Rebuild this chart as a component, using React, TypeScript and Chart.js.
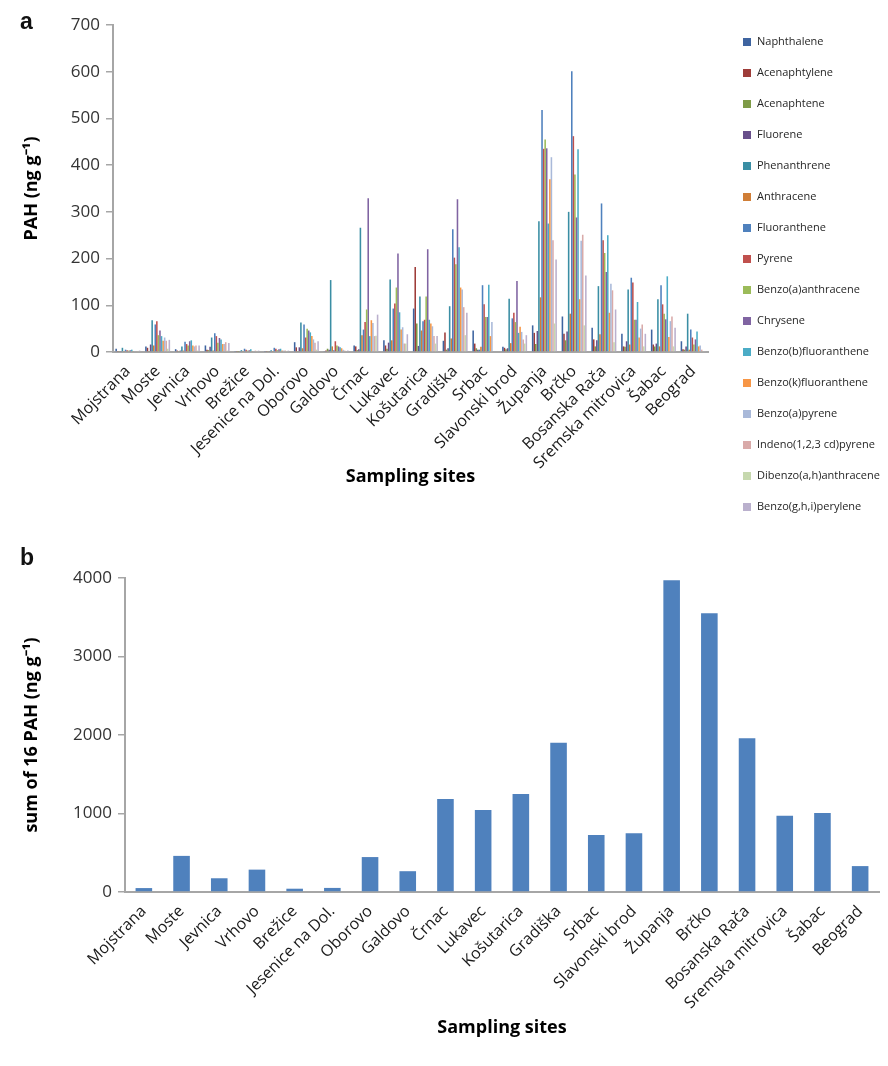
import { useEffect, useRef } from 'react';
import { Chart, registerables } from 'chart.js';

Chart.register(...registerables);

const FONT = '"Open Sans", "Liberation Sans", sans-serif';

const SITES = [
  'Mojstrana', 'Moste', 'Jevnica', 'Vrhovo', 'Brežice', 'Jesenice na Dol.', 'Oborovo', 'Galdovo',
  'Črnac', 'Lukavec', 'Košutarica', 'Gradiška', 'Srbac', 'Slavonski brod', 'Županja', 'Brčko',
  'Bosanska Rača', 'Sremska mitrovica', 'Šabac', 'Beograd',
];

// Individual PAH concentrations per site (ng g-1)
const NAPHTHALENE = [7, 12, 6, 14, 2, 2, 21, 2, 14, 25, 93, 24, 46, 11, 57, 76, 52, 39, 48, 23];
const ACENAPHTYLENE = [1, 9, 3, 5, 1, 1, 10, 3, 12, 14, 182, 42, 18, 9, 41, 39, 27, 12, 16, 6];
const ACENAPHTENE = [1, 2, 2, 4, 0.5, 1, 2, 7, 4, 7, 61, 5, 8, 6, 17, 25, 12, 11, 12, 5];
const FLUORENE = [2, 16, 3, 11, 1, 1, 10, 5, 6, 20, 13, 8, 5, 8, 45, 44, 25, 23, 18, 12];
const PHENANTHRENE = [9, 68, 12, 31, 4, 4, 63, 154, 266, 155, 119, 98, 5, 114, 280, 300, 141, 134, 113, 82];
const ANTHRACENE = [1, 14, 3, 3, 1, 1, 8, 12, 36, 25, 46, 29, 11, 19, 117, 82, 38, 16, 12, 5];
const FLUORANTHENE = [5, 59, 22, 40, 7, 9, 59, 4, 48, 93, 66, 263, 143, 72, 518, 601, 318, 159, 143, 48];
const PYRENE = [4, 66, 17, 34, 5, 7, 31, 23, 64, 104, 69, 202, 102, 84, 435, 462, 239, 149, 102, 31];
const BENZO_A_ANTHRACENE = [3, 36, 14, 20, 3, 4, 50, 14, 91, 138, 119, 188, 75, 64, 455, 380, 212, 69, 82, 16];
const CHRYSENE = [4, 46, 23, 30, 4, 6, 46, 12, 329, 211, 220, 327, 75, 152, 436, 288, 171, 69, 70, 27];
const BENZO_B_FLUORANTHENE = [5, 34, 25, 27, 6, 7, 42, 10, 34, 85, 69, 224, 144, 41, 275, 434, 250, 107, 162, 44];
const BENZO_K_FLUORANTHENE = [2, 24, 14, 17, 2, 3, 34, 8, 68, 48, 61, 138, 34, 54, 370, 113, 84, 31, 32, 12];
const BENZO_A_PYRENE = [2, 31, 12, 17, 2, 3, 27, 5, 62, 53, 55, 134, 64, 43, 417, 238, 146, 50, 66, 14];
const INDENO_PYRENE = [2, 24, 14, 21, 3, 3, 20, 3, 34, 18, 34, 96, 0, 27, 239, 251, 132, 59, 76, 5];
const DIBENZO_AH_ANTHRACENE = [1, 7, 3, 3, 1, 1, 5, 2, 35, 18, 18, 36, 0, 18, 61, 57, 21, 12, 12, 2];
const BENZO_GHI_PERYLENE = [3, 26, 14, 19, 3, 3, 23, 3, 80, 38, 34, 84, 0, 36, 198, 164, 91, 39, 52, 2];

// Sum of the 16 PAH per site (ng g-1)
const SUM_16_PAH = [50, 460, 175, 285, 42, 52, 445, 265, 1185, 1045, 1250, 1900, 725, 750, 3970, 3550, 1960, 970, 1005, 330];

const SERIES = [
  { name: 'Naphthalene', color: '#3E64A0', values: NAPHTHALENE },
  { name: 'Acenaphtylene', color: '#9E3C39', values: ACENAPHTYLENE },
  { name: 'Acenaphtene', color: '#7E9B47', values: ACENAPHTENE },
  { name: 'Fluorene', color: '#684F8B', values: FLUORENE },
  { name: 'Phenanthrene', color: '#3A8EA4', values: PHENANTHRENE },
  { name: 'Anthracene', color: '#D07E37', values: ANTHRACENE },
  { name: 'Fluoranthene', color: '#4F81BD', values: FLUORANTHENE },
  { name: 'Pyrene', color: '#C0504D', values: PYRENE },
  { name: 'Benzo(a)anthracene', color: '#9BBB59', values: BENZO_A_ANTHRACENE },
  { name: 'Chrysene', color: '#8064A2', values: CHRYSENE },
  { name: 'Benzo(b)fluoranthene', color: '#4BACC6', values: BENZO_B_FLUORANTHENE },
  { name: 'Benzo(k)fluoranthene', color: '#F79646', values: BENZO_K_FLUORANTHENE },
  { name: 'Benzo(a)pyrene', color: '#A9B9D9', values: BENZO_A_PYRENE },
  { name: 'Indeno(1,2,3 cd)pyrene', color: '#D9AAA9', values: INDENO_PYRENE },
  { name: 'Dibenzo(a,h)anthracene', color: '#C6D8AE', values: DIBENZO_AH_ANTHRACENE },
  { name: 'Benzo(g,h,i)perylene', color: '#BAB0CD', values: BENZO_GHI_PERYLENE },
];

const AXIS_GREY = '#A6A6A6';
const TICK_TEXT = '#333333';

// Vertical legend drawn to the right of the plot area
const sideLegend = {
  id: 'sideLegend',
  afterDraw(chart: any) {
    const ctx = chart.ctx;
    ctx.save();
    ctx.font = `11px ${FONT}`;
    ctx.textBaseline = 'middle';
    ctx.textAlign = 'left';
    chart.data.datasets.forEach((ds: any, i: number) => {
      const y = 42 + i * 31;
      ctx.fillStyle = ds.backgroundColor;
      ctx.fillRect(743, y - 4, 8, 8);
      ctx.fillStyle = '#262626';
      ctx.fillText(ds.label, 757, y);
    });
    ctx.restore();
  },
};

function xScale(height: number, titleBottom: number) {
  return {
    grid: { display: false },
    border: { color: AXIS_GREY, width: 2 },
    ticks: {
      autoSkip: false,
      maxRotation: 45,
      minRotation: 45,
      padding: 2,
      color: '#1a1a1a',
      font: { family: FONT, size: 16 },
    },
    title: {
      display: true,
      text: 'Sampling sites',
      color: '#000',
      font: { family: FONT, size: 18, weight: 'bold' as const },
      padding: { top: 0, bottom: titleBottom },
    },
    afterFit(scale: any) {
      scale.height = height;
    },
  };
}

function yScale(width: number, max: number, step: number, title: string) {
  return {
    min: 0,
    max,
    grid: { drawOnChartArea: false, drawTicks: true, tickLength: 7, color: AXIS_GREY, lineWidth: 1.5 },
    border: { color: AXIS_GREY, width: 2 },
    ticks: {
      stepSize: step,
      padding: 6,
      color: TICK_TEXT,
      font: { family: FONT, size: 17 },
      callback: (value: any) => String(value),
    },
    title: {
      display: true,
      text: title,
      color: '#000',
      font: { family: FONT, size: 18, weight: 'bold' as const },
      padding: { top: 21, bottom: 0 },
    },
    afterFit(scale: any) {
      scale.width = width;
    },
  };
}

function IndividualPahChart() {
  const ref = useRef<HTMLCanvasElement>(null);
  useEffect(() => {
    const chart = new Chart(ref.current as HTMLCanvasElement, {
      type: 'bar',
      data: {
        labels: SITES,
        datasets: SERIES.map((s) => ({
          label: s.name,
          data: s.values,
          backgroundColor: s.color,
          borderWidth: 0,
          categoryPercentage: 0.84,
          barPercentage: 1,
        })),
      },
      options: {
        responsive: false,
        animation: false,
        layout: { padding: { top: 25, right: 180, left: 0, bottom: 0 } },
        plugins: { legend: { display: false }, tooltip: { enabled: false } },
        scales: {
          x: xScale(168, 32) as any,
          y: yScale(113, 700, 100, 'PAH (ng g⁻¹)') as any,
        },
      },
      plugins: [sideLegend],
    });
    return () => chart.destroy();
  }, []);
  return <canvas ref={ref} width={888} height={520} style={{ display: 'block' }} />;
}

function SumPahChart() {
  const ref = useRef<HTMLCanvasElement>(null);
  useEffect(() => {
    const chart = new Chart(ref.current as HTMLCanvasElement, {
      type: 'bar',
      data: {
        labels: SITES,
        datasets: [
          {
            label: 'sum of 16 PAH',
            data: SUM_16_PAH,
            backgroundColor: '#4F81BD',
            borderWidth: 0,
            categoryPercentage: 1,
            barPercentage: 0.44,
          },
        ],
      },
      options: {
        responsive: false,
        animation: false,
        layout: { padding: { top: 58, right: 9, left: 0, bottom: 0 } },
        plugins: { legend: { display: false }, tooltip: { enabled: false } },
        scales: {
          x: xScale(174, 27) as any,
          y: yScale(125, 4000, 1000, 'sum of 16 PAH (ng g⁻¹)') as any,
        },
      },
    });
    return () => chart.destroy();
  }, []);
  return <canvas ref={ref} width={888} height={546} style={{ display: 'block' }} />;
}

const panelLetter = {
  position: 'absolute' as const,
  left: 20,
  fontFamily: '"Liberation Sans", Arial, sans-serif',
  fontWeight: 'bold' as const,
  fontSize: 23,
  lineHeight: '24px',
  color: '#111',
};

export default function App() {
  return (
    <div style={{ position: 'absolute', left: 0, top: 0, width: 888, height: 1066, background: '#fff', overflow: 'hidden' }}>
      <div style={{ position: 'absolute', left: 0, top: 0 }}>
        <IndividualPahChart />
      </div>
      <div style={{ position: 'absolute', left: 0, top: 520 }}>
        <SumPahChart />
      </div>
      <div style={{ ...panelLetter, top: 9 }}>a</div>
      <div style={{ ...panelLetter, top: 545 }}>b</div>
    </div>
  );
}
